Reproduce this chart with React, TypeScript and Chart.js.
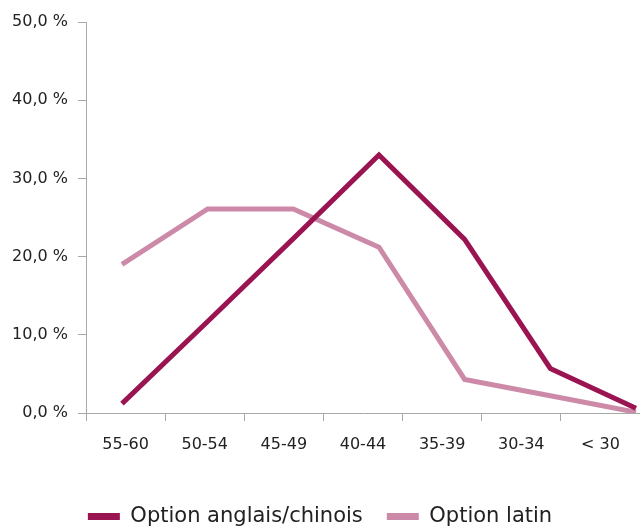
import React, { useEffect, useRef } from 'react';
import { Chart, registerables } from 'chart.js';

Chart.register(...registerables);

const categories = ['55-60', '50-54', '45-49', '40-44', '35-39', '30-34', '< 30'];
const anglaisChinois = [1.2, 11.7, 22.3, 33.0, 22.2, 5.7, 0.6];
const latin = [19.0, 26.1, 26.1, 21.2, 4.3, 2.2, 0.1];
const seriesNames = ['Option anglais/chinois', 'Option latin'];
const yTicks = [0, 10, 20, 30, 40, 50];

const DARK = '#9a1452';
const LIGHT = '#cc8aa8';
const AXIS = '#a8a8a8';
const FONT = "'DejaVu Sans', sans-serif";

export default function App() {
  const ref = useRef<HTMLCanvasElement | null>(null);

  useEffect(() => {
    if (!ref.current) return;
    const chart = new Chart(ref.current, {
      type: 'line',
      data: {
        labels: categories,
        datasets: [
          {
            label: seriesNames[0],
            data: anglaisChinois.map((v, i) => ({ x: i, y: v })),
            borderColor: DARK,
            backgroundColor: DARK,
            borderWidth: 5,
            pointRadius: 0,
            tension: 0,
            xAxisID: 'x2',
            borderCapStyle: 'butt',
          },
          {
            label: seriesNames[1],
            data: latin.map((v, i) => ({ x: i, y: v })),
            borderColor: LIGHT,
            backgroundColor: LIGHT,
            borderWidth: 5,
            pointRadius: 0,
            tension: 0,
            xAxisID: 'x2',
            borderCapStyle: 'butt',
          },
        ],
      },
      options: {
        animation: false,
        responsive: false,
        layout: { padding: { top: 22, left: 0, right: 0, bottom: 0 } },
        plugins: {
          tooltip: { enabled: false },
          legend: {
            position: 'bottom',
            align: 'center',
            labels: {
              boxWidth: 32,
              boxHeight: 7,
              padding: 24,
              color: '#222',
              font: { family: FONT, size: 21 },
              generateLabels: (c: any) =>
                Chart.defaults.plugins.legend.labels.generateLabels(c).map((l: any) => ({
                  ...l,
                  lineWidth: 0,
                  fillStyle: l.strokeStyle,
                })),
            },
          },
        },
        scales: {
          x: {
            type: 'category',
            labels: categories,
            offset: true,
            border: { color: AXIS, width: 1 },
            grid: { offset: true, drawOnChartArea: false, drawTicks: true, tickLength: 8, color: AXIS },
            ticks: { color: '#222', font: { family: FONT, size: 16 }, padding: 14, maxRotation: 0 },
            afterFit: (s: any) => {
              s.height = 69;
            },
          },
          x2: {
            type: 'linear',
            display: false,
            min: -0.42,
            max: 6.047,
          },
          y: {
            min: 0,
            max: 50,
            afterBuildTicks: (s: any) => {
              s.ticks = yTicks.map((v) => ({ value: v }));
            },
            border: { color: AXIS, width: 1 },
            grid: { drawOnChartArea: false, drawTicks: true, tickLength: 8, color: AXIS },
            ticks: {
              color: '#222',
              font: { family: FONT, size: 16 },
              padding: 10,
              callback: (v: any) => Number(v).toFixed(1).replace('.', ',') + ' %',
            },
            afterFit: (s: any) => {
              s.width = 86;
            },
          },
        },
      },
    });
    return () => chart.destroy();
  }, []);

  return (
    <div style={{ position: 'absolute', left: 0, top: 0, width: 640, height: 526, overflow: 'hidden', background: '#fff' }}>
      <canvas ref={ref} width={640} height={537} style={{ display: 'block' }} />
    </div>
  );
}
